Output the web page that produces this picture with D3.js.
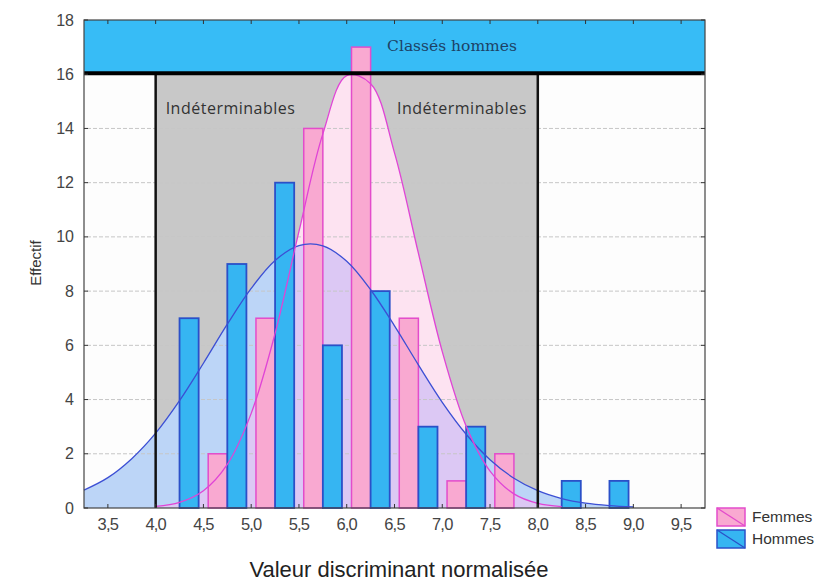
<!DOCTYPE html>
<html>
<head>
<meta charset="utf-8">
<script src="https://cdn.jsdelivr.net/npm/d3@7"></script>
<style>
  body { margin: 0; background: #ffffff; }
  svg text { font-family: "Liberation Sans", Arial, sans-serif; fill: #333; }
</style>
</head>
<body>
<div id="chart"></div>
<script>
// histogram bins (centres) and counts
const binCenters = [4.25, 4.75, 5.25, 5.75, 6.25, 6.75, 7.25, 7.75, 8.25, 8.75];
const femmes = [0, 2, 7, 14, 17, 7, 1, 2, 0, 0];
const hommes = [7, 9, 12, 6, 8, 3, 3, 0, 1, 1];

// fitted curves
const femmesCurveX = [4.0, 4.25, 4.5, 4.75, 5.0, 5.25, 5.5, 5.75, 6.0, 6.25, 6.5, 6.75, 7.0, 7.25, 7.5, 7.75, 8.0, 8.25];
const femmesCurveY = [0.06, 0.21, 0.64, 1.61, 3.49, 6.44, 10.2, 13.8, 15.95, 15.65, 13.1, 9.4, 5.77, 3.02, 1.36, 0.52, 0.17, 0.05];
const hommesCurveX = [3.25, 3.5, 3.75, 4.0, 4.25, 4.5, 4.75, 5.0, 5.25, 5.5, 5.75, 6.0, 6.25, 6.5, 6.75, 7.0, 7.25, 7.5, 7.75, 8.0, 8.25, 8.5, 8.75, 9.0];
const hommesCurveY = [0.66, 1.12, 1.82, 2.76, 3.96, 5.34, 6.78, 8.10, 9.13, 9.68, 9.67, 9.10, 8.05, 6.72, 5.28, 3.90, 2.72, 1.78, 1.10, 0.64, 0.35, 0.18, 0.09, 0.04];

// axis ticks and zones
const xTicks = [3.5, 4.0, 4.5, 5.0, 5.5, 6.0, 6.5, 7.0, 7.5, 8.0, 8.5, 9.0, 9.5];
const yTicks = [0, 2, 4, 6, 8, 10, 12, 14, 16, 18];
const zoneLimits = [4.0, 8.0];
const bandLimit = 16;

const width = 827;
const height = 581;
const barW = 0.2;

const x = d3.scaleLinear().domain([3.25, 9.75]).range([84, 705]);
const y = d3.scaleLinear().domain([0, 18]).range([508, 20]);
const fmt = d3.formatLocale({ decimal: ",", thousands: ".", grouping: [3], currency: ["", ""] }).format(".1f");

const svg = d3.select('#chart')
    .append('svg')
    .attr('width', width)
    .attr('height', height);

// plot background
svg.append('rect')
    .attr('x', x(3.25)).attr('y', y(18))
    .attr('width', x(9.75) - x(3.25)).attr('height', y(0) - y(18))
    .attr('fill', '#fdfdfd');

// grey "indéterminables" zone
svg.append('rect')
    .attr('x', x(zoneLimits[0])).attr('y', y(bandLimit))
    .attr('width', x(zoneLimits[1]) - x(zoneLimits[0]))
    .attr('height', y(0) - y(bandLimit))
    .attr('fill', '#c8c8c8');

// top band "classés hommes"
svg.append('rect')
    .attr('x', x(3.25)).attr('y', y(18))
    .attr('width', x(9.75) - x(3.25)).attr('height', y(bandLimit) - y(18))
    .attr('fill', '#37bcf6');

// curve areas
const fPts = femmesCurveX.map((v, i) => [v, femmesCurveY[i]]);
const hPts = hommesCurveX.map((v, i) => [v, hommesCurveY[i]]);
const hByX = new Map(hPts.map(p => [p[0], p[1]]));
const overlap = fPts.map(p => [p[0], Math.min(p[1], hByX.get(p[0]))]);

const area = d3.area()
    .x(d => x(d[0]))
    .y0(y(0))
    .y1(d => y(d[1]))
    .curve(d3.curveCatmullRom);
const line = d3.line()
    .x(d => x(d[0]))
    .y(d => y(d[1]))
    .curve(d3.curveCatmullRom);

svg.append('path').datum(hPts).attr('d', area).attr('fill', '#bcd5f7');
svg.append('path').datum(fPts).attr('d', area).attr('fill', '#fde3f1');
svg.append('path').datum(overlap).attr('d', area).attr('fill', '#dcc8f4');

// grid
svg.append('g')
    .selectAll('line')
    .data(yTicks.filter(v => v > 0 && v < bandLimit))
    .enter()
    .append('line')
    .attr('x1', x(3.25) + 3).attr('x2', x(9.75) - 3)
    .attr('y1', d => y(d)).attr('y2', d => y(d))
    .attr('stroke', '#c6c6c6')
    .attr('stroke-dasharray', '4,2');

// bars
svg.append('g')
    .selectAll('rect')
    .data(binCenters.map((c, i) => ({ c: c, v: femmes[i] })).filter(d => d.v > 0))
    .enter()
    .append('rect')
    .attr('x', d => x(d.c - barW))
    .attr('y', d => y(d.v))
    .attr('width', d => x(d.c) - x(d.c - barW))
    .attr('height', d => y(0) - y(d.v))
    .attr('fill', '#f9a9d1')
    .attr('stroke', '#e34ccb')
    .attr('stroke-width', 1.5);

svg.append('g')
    .selectAll('rect')
    .data(binCenters.map((c, i) => ({ c: c, v: hommes[i] })).filter(d => d.v > 0))
    .enter()
    .append('rect')
    .attr('x', d => x(d.c))
    .attr('y', d => y(d.v))
    .attr('width', d => x(d.c + barW) - x(d.c))
    .attr('height', d => y(0) - y(d.v))
    .attr('fill', '#36b5f2')
    .attr('stroke', '#2b50c8')
    .attr('stroke-width', 1.8);

// curve lines
svg.append('path').datum(hPts).attr('d', line)
    .attr('fill', 'none').attr('stroke', '#3c4fd4').attr('stroke-width', 1.3);
svg.append('path').datum(fPts).attr('d', line)
    .attr('fill', 'none').attr('stroke', '#e044d6').attr('stroke-width', 1.3);

// zone limits
svg.append('g')
    .selectAll('line')
    .data(zoneLimits)
    .enter()
    .append('line')
    .attr('x1', d => x(d)).attr('x2', d => x(d))
    .attr('y1', y(0)).attr('y2', y(bandLimit))
    .attr('stroke', '#111')
    .attr('stroke-width', 2.5);

svg.append('line')
    .attr('x1', x(3.25)).attr('x2', x(9.75))
    .attr('y1', y(bandLimit) - 1).attr('y2', y(bandLimit) - 1)
    .attr('stroke', '#000')
    .attr('stroke-width', 4);

// zone labels
svg.append('text')
    .attr('x', 452).attr('y', 51)
    .attr('text-anchor', 'middle')
    .style('font-family', '"DejaVu Serif", "Liberation Serif", serif')
    .style('font-size', '15.5px')
    .style('fill', '#1d4266')
    .text('Classés hommes');

svg.append('text')
    .attr('x', x(zoneLimits[0]) + 10).attr('y', 114)
    .style('font-family', '"Open Sans", sans-serif')
    .style('font-size', '16px')
    .style('letter-spacing', '0.5px')
    .text('Indéterminables');

svg.append('text')
    .attr('x', x(zoneLimits[1]) - 11).attr('y', 114)
    .attr('text-anchor', 'end')
    .style('font-family', '"Open Sans", sans-serif')
    .style('font-size', '16px')
    .style('letter-spacing', '0.5px')
    .text('Indéterminables');

// frame
svg.append('rect')
    .attr('x', x(3.25)).attr('y', y(18))
    .attr('width', x(9.75) - x(3.25)).attr('height', y(0) - y(18))
    .attr('fill', 'none')
    .attr('stroke', '#444')
    .attr('stroke-width', 1.2);

// tick marks (inside)
const tickG = svg.append('g').attr('stroke', '#333');
xTicks.forEach(t => {
    tickG.append('line').attr('x1', x(t)).attr('x2', x(t)).attr('y1', y(0)).attr('y2', y(0) - 4);
    tickG.append('line').attr('x1', x(t)).attr('x2', x(t)).attr('y1', y(18)).attr('y2', y(18) + 4);
});
yTicks.forEach(t => {
    tickG.append('line').attr('x1', x(9.75)).attr('x2', x(9.75) - 4).attr('y1', y(t)).attr('y2', y(t));
    tickG.append('line').attr('x1', x(3.25)).attr('x2', x(3.25) + 4).attr('y1', y(t)).attr('y2', y(t));
});

// tick labels
svg.append('g')
    .selectAll('text')
    .data(xTicks)
    .enter()
    .append('text')
    .attr('x', d => x(d))
    .attr('y', 530)
    .attr('text-anchor', 'middle')
    .style('font-size', '16.5px')
    .style('letter-spacing', '-0.8px')
    .style('fill', '#444')
    .text(d => fmt(d));

svg.append('g')
    .selectAll('text')
    .data(yTicks)
    .enter()
    .append('text')
    .attr('x', 74)
    .attr('y', d => y(d) + 5.5)
    .attr('text-anchor', 'end')
    .style('font-size', '16px')
    .style('fill', '#444')
    .text(d => d);

// axis titles
svg.append('text')
    .attr('x', 399).attr('y', 577)
    .attr('text-anchor', 'middle')
    .style('font-size', '22px')
    .style('fill', '#222')
    .text('Valeur discriminant normalisée');

svg.append('text')
    .attr('transform', 'translate(41,' + 263 + ') rotate(-90)')
    .attr('text-anchor', 'middle')
    .style('font-size', '15px')
    .text('Effectif');

// legend
const legend = [
    { name: 'Femmes', fill: '#f9a9d1', stroke: '#e34ccb', y: 508 },
    { name: 'Hommes', fill: '#36b5f2', stroke: '#2b50c8', y: 530 }
];
const lg = svg.append('g');
legend.forEach(d => {
    lg.append('rect').attr('x', 717).attr('y', d.y).attr('width', 28).attr('height', 18)
        .attr('fill', d.fill).attr('stroke', d.stroke).attr('stroke-width', 1.5);
    lg.append('line').attr('x1', 717).attr('y1', d.y).attr('x2', 745).attr('y2', d.y + 18)
        .attr('stroke', d.stroke).attr('stroke-width', 1.3);
    lg.append('text').attr('x', 752).attr('y', d.y + 14)
        .style('font-size', '15.5px')
        .text(d.name);
});
</script>
</body>
</html>
